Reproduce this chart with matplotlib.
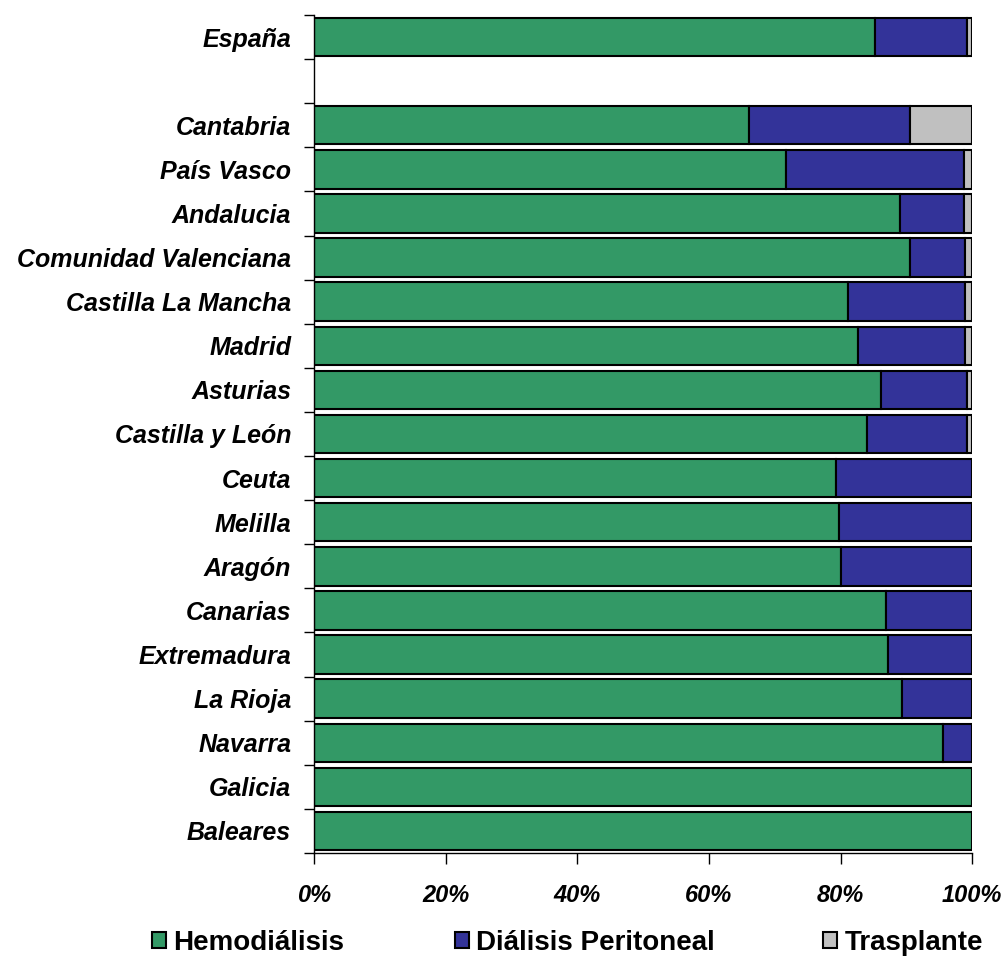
import matplotlib
matplotlib.use("Agg")
import matplotlib.pyplot as plt
import numpy as np
from matplotlib.ticker import FixedLocator, PercentFormatter

# Tratamiento renal sustitutivo por comunidad (porcentaje de pacientes)
regions = ["España", "", "Cantabria", "País Vasco", "Andalucia",
           "Comunidad Valenciana", "Castilla La Mancha", "Madrid", "Asturias",
           "Castilla y León", "Ceuta", "Melilla", "Aragón", "Canarias",
           "Extremadura", "La Rioja", "Navarra", "Galicia", "Baleares"]
hemodialisis = [85.3, 0, 66.1, 71.7, 89.0, 90.6, 81.1, 82.7, 86.1, 84.0,
                79.3, 79.8, 80.1, 86.9, 87.2, 89.3, 95.5, 100.0, 100.0]
peritoneal = [13.9, 0, 24.5, 27.0, 9.7, 8.3, 17.8, 16.2, 13.1, 15.2,
              20.7, 20.2, 19.9, 13.1, 12.8, 10.7, 4.5, 0.0, 0.0]
trasplante = [0.8, 0, 9.4, 1.3, 1.3, 1.1, 1.1, 1.1, 0.8, 0.8,
              0, 0, 0, 0, 0, 0, 0, 0, 0]

series = [("Hemodiálisis", hemodialisis, "#339966"),
          ("Diálisis Peritoneal", peritoneal, "#333399"),
          ("Trasplante", trasplante, "#c0c0c0")]

plt.rcParams["font.family"] = ["Liberation Sans", "DejaVu Sans"]

fig = plt.figure(figsize=(10.07, 9.59), dpi=100)
ax = fig.add_axes([0.3118, 0.1105, 0.6537, 0.8739])

y = np.arange(len(regions))
left = np.zeros(len(regions))
handles = []
for name, vals, color in series:
    vals = np.array(vals, dtype=float)
    mask = vals > 0
    bars = ax.barh(y[mask], vals[mask], left=left[mask], height=0.87,
                   color=color, edgecolor="black", linewidth=1.5, label=name)
    handles.append(bars)
    left += vals

ax.set_xlim(0, 100)
ax.set_ylim(len(regions) - 0.5, -0.5)

ax.set_yticks(y)
ax.set_yticklabels(regions, fontsize=18, fontweight="bold", style="italic")
ax.tick_params(axis="y", which="major", length=0, pad=16.5)
ax.yaxis.set_minor_locator(FixedLocator(np.arange(-0.5, len(regions), 1)))
ax.tick_params(axis="y", which="minor", length=7, width=1, direction="out")

ax.set_xticks(np.arange(0, 101, 20))
ax.xaxis.set_major_formatter(PercentFormatter(decimals=0))
ax.tick_params(axis="x", length=8, width=1, direction="out", pad=14,
               labelsize=17)
for lbl in ax.get_xticklabels():
    lbl.set_fontweight("bold")
    lbl.set_style("italic")

for side in ("top", "right"):
    ax.spines[side].set_visible(False)
for side in ("left", "bottom"):
    ax.spines[side].set_linewidth(1)

# one legend entry per box, each anchored at its own x position
legend_x = [152, 455, 823]
for h, x0 in zip(handles, legend_x):
    leg = fig.legend(handles=[h], loc="center left",
                     bbox_to_anchor=(x0 / 1007, 16 / 959), frameon=False,
                     prop={"weight": "bold", "size": 20},
                     handlelength=0.52, handleheight=0.52, handletextpad=0.25,
                     borderpad=0, borderaxespad=0)

fig.savefig("out.png", dpi=100)
